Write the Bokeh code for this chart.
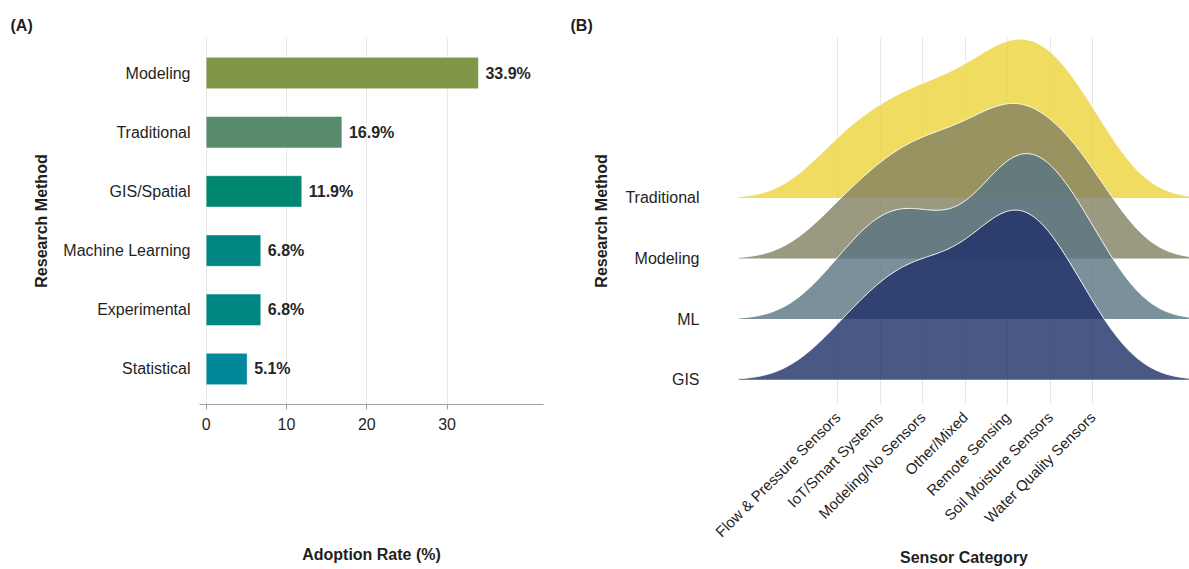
import numpy as np
from bokeh.plotting import figure
from bokeh.layouts import row
from bokeh.models import Range1d, FixedTicker
from bokeh.core.properties import value
from bokeh.embed import file_html
from bokeh.resources import INLINE

FONT = "Liberation Sans"
TXT = "#1f1f1f"

# ---------------- panel A: adoption rate by research method ----------------
methods = ["Modeling", "Traditional", "GIS/Spatial", "Machine Learning", "Experimental", "Statistical"]
adoption_rate = [33.9, 16.9, 11.9, 6.8, 6.8, 5.1]
bar_colors = ["#82964a", "#578b6b", "#008670", "#008682", "#008682", "#00889a"]

# ---------------- panel B: sensor category distribution per method ----------------
sensor_categories = ["Flow & Pressure Sensors", "IoT/Smart Systems", "Modeling/No Sensors",
                     "Other/Mixed", "Remote Sensing", "Soil Moisture Sensors", "Water Quality Sensors"]
ridge_methods = ["GIS", "ML", "Modeling", "Traditional"]          # bottom to top
ridge_colors = ["#1d2e68", "#597482", "#828160", "#ecd338"]

# share (%) of each method's studies falling in each sensor category
share_gis = [6.7, 12.2, 16.2, 11.8, 25.5, 19.3, 8.2]
share_ml = [7.0, 14.8, 14.4, 7.1, 24.6, 20.5, 11.6]
share_modeling = [7.5, 11.4, 16.0, 13.6, 21.9, 16.9, 12.7]
share_traditional = [8.7, 10.9, 14.5, 13.5, 21.3, 19.7, 11.5]
ridge_shares = [share_gis, share_ml, share_modeling, share_traditional]

bandwidth = 0.9      # joint kernel bandwidth (category units)
ridge_scale = 2.8    # tallest ridge height, in multiples of the row spacing

# ---------------- panel A ----------------
ypos = [len(methods) - i for i in range(len(methods))]
pa = figure(width=560, height=569, x_range=Range1d(-0.83, 42.0), y_range=Range1d(0.4, 6.6),
            output_backend="svg", toolbar_location=None,
            min_border_left=199, min_border_right=17, min_border_top=37, min_border_bottom=162)
pa.outline_line_color = None
pa.title.text = "(A)"
pa.title.align = "left"
pa.title.offset = -189
pa.title.standoff = 8
pa.title.text_font = FONT
pa.title.text_font_size = "16px"
pa.title.text_font_style = "bold"
pa.title.text_color = TXT
pa.hbar(y=ypos, right=adoption_rate, left=0, height=0.53, fill_color=bar_colors,
        line_color="white", line_width=0.8, line_alpha=0.6)
pa.text(x=adoption_rate, y=ypos, text=[f"{v:.1f}%" for v in adoption_rate], x_offset=7,
        text_align="left", text_baseline="middle", text_font_size="16px",
        text_font_style="bold", text_color="#262626", text_font=value(FONT))
pa.xaxis.ticker = FixedTicker(ticks=[0, 10, 20, 30])
pa.yaxis.ticker = FixedTicker(ticks=ypos)
pa.yaxis.major_label_overrides = {y: m for y, m in zip(ypos, methods)}
pa.ygrid.grid_line_color = None
pa.xgrid.grid_line_color = "#e8e8e8"
pa.yaxis.axis_line_color = None
pa.yaxis.major_tick_line_color = None
pa.yaxis.minor_tick_line_color = None
pa.yaxis.major_tick_out = 0
pa.yaxis.major_tick_in = 0
pa.yaxis.major_label_standoff = 9
pa.yaxis.axis_label = "Research Method"
pa.yaxis.axis_label_standoff = 10
pa.xaxis.axis_line_color = "#a0a0a0"
pa.xaxis.major_tick_line_color = "#a0a0a0"
pa.xaxis.major_tick_out = 5
pa.xaxis.major_tick_in = 0
pa.xaxis.minor_tick_line_color = None
pa.xaxis.major_label_standoff = 8
pa.xaxis.axis_label = "Adoption Rate (%)"
pa.xaxis.axis_label_standoff = 113
for ax in (pa.xaxis, pa.yaxis):
    ax.major_label_text_font = FONT
    ax.major_label_text_font_size = "16px"
    ax.major_label_text_color = TXT
    ax.axis_label_text_font = FONT
    ax.axis_label_text_font_size = "16px"
    ax.axis_label_text_font_style = "bold"
    ax.axis_label_text_color = TXT

# ---------------- panel B: ridgelines (Gaussian KDE over category positions) ----------------
cat_pos = np.arange(1, len(sensor_categories) + 1)
xs_grid = np.linspace(-1.33, 9.6, 500)


def kde(shares):
    w = np.asarray(shares, dtype=float)
    w = w / w.sum()
    z = (xs_grid[:, None] - cat_pos[None, :]) / bandwidth
    return (np.exp(-0.5 * z ** 2) / (bandwidth * np.sqrt(2 * np.pi))) @ w


densities = [kde(s) for s in ridge_shares]
dmax = max(d.max() for d in densities)

pb = figure(width=629, height=569, x_range=Range1d(-1.33, 9.28), y_range=Range1d(0.59, 6.65),
            output_backend="svg", toolbar_location=None,
            min_border_left=178, min_border_right=0, min_border_top=37, min_border_bottom=163)
pb.outline_line_color = None
pb.title.text = "(B)"
pb.title.align = "left"
pb.title.offset = -168
pb.title.standoff = 8
pb.title.text_font = FONT
pb.title.text_font_size = "16px"
pb.title.text_font_style = "bold"
pb.title.text_color = TXT
# upper rows first so lower ridges overlap them
for r in reversed(range(len(ridge_methods))):
    base = r + 1
    top = base + densities[r] / dmax * ridge_scale
    pb.varea(x=xs_grid, y1=np.full_like(xs_grid, base), y2=top,
             fill_color=ridge_colors[r], fill_alpha=0.8)
    pb.line(xs_grid, top, line_color="white", line_width=1)
pb.xaxis.ticker = FixedTicker(ticks=list(cat_pos))
pb.xaxis.major_label_overrides = {int(i): c for i, c in zip(cat_pos, sensor_categories)}
pb.xaxis.major_label_orientation = np.pi / 4
pb.yaxis.ticker = FixedTicker(ticks=[1, 2, 3, 4])
pb.yaxis.major_label_overrides = {i + 1: m for i, m in enumerate(ridge_methods)}
pb.ygrid.grid_line_color = None
pb.xgrid.grid_line_color = "#e8e8e8"
for ax in (pb.xaxis, pb.yaxis):
    ax.axis_line_color = None
    ax.major_tick_line_color = None
    ax.minor_tick_line_color = None
    ax.major_tick_out = 0
    ax.major_tick_in = 0
    ax.major_label_text_font = FONT
    ax.major_label_text_font_size = "16px"
    ax.major_label_text_color = TXT
    ax.axis_label_text_font = FONT
    ax.axis_label_text_font_size = "16px"
    ax.axis_label_text_font_style = "bold"
    ax.axis_label_text_color = TXT
pb.xaxis.major_label_text_font_size = "15px"
pb.yaxis.major_label_standoff = 39
pb.yaxis.axis_label = "Research Method"
pb.yaxis.axis_label_standoff = 12
pb.xaxis.major_label_standoff = 10
pb.xaxis.axis_label = "Sensor Category"
pb.xaxis.axis_label_standoff = 0

layout = row(pa, pb, spacing=0)
open("out.html", "w").write(file_html(layout, INLINE))
